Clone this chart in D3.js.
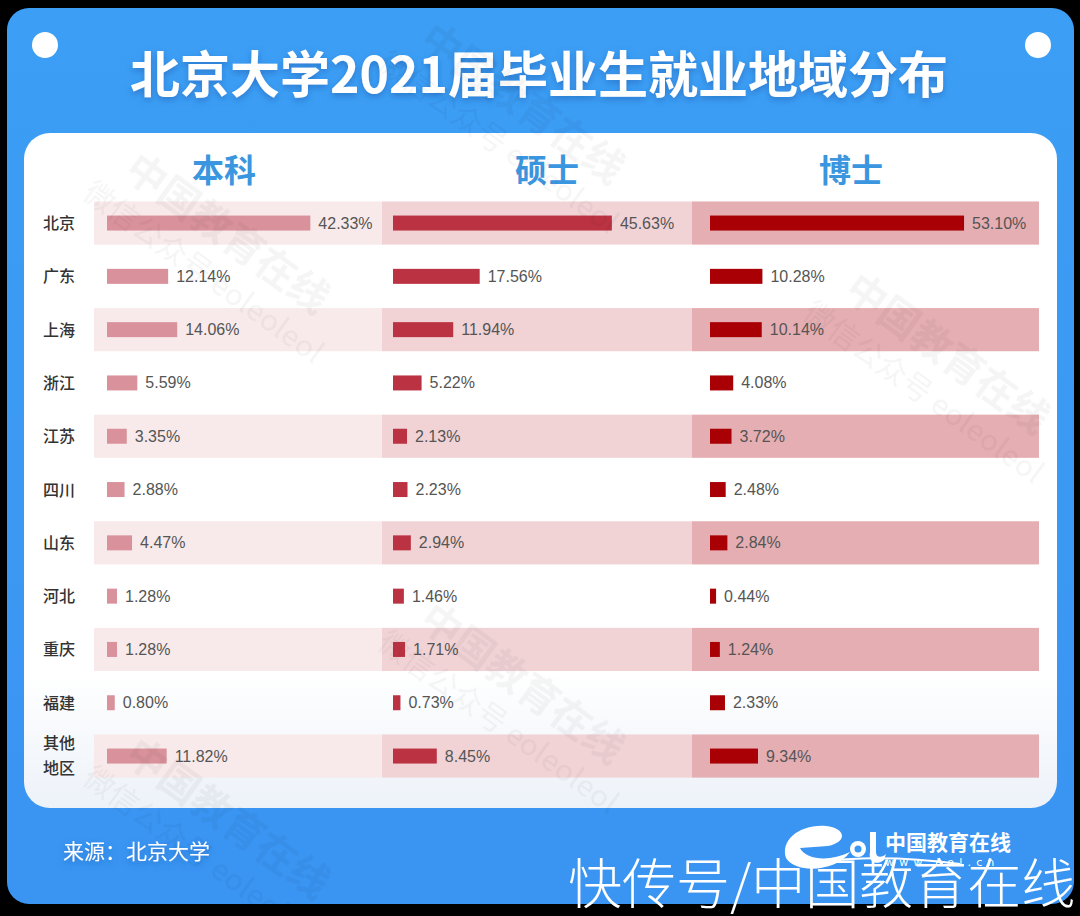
<!DOCTYPE html>
<html>
<head>
<meta charset="utf-8">
<script src="https://cdn.jsdelivr.net/npm/d3@7"></script>
<style>
  html, body { margin: 0; padding: 0; background: #000; }
  svg { display: block; }
</style>
</head>
<body>
<div id="chart"></div>
<script>
// data
const regions = ['北京', '广东', '上海', '浙江', '江苏', '四川', '山东', '河北', '重庆', '福建', '其他地区']
const degrees = ['本科', '硕士', '博士']
const undergrad = [42.33, 12.14, 14.06, 5.59, 3.35, 2.88, 4.47, 1.28, 1.28, 0.80, 11.82]
const master = [45.63, 17.56, 11.94, 5.22, 2.13, 2.23, 2.94, 1.46, 1.71, 0.73, 8.45]
const doctor = [53.10, 10.28, 10.14, 4.08, 3.72, 2.48, 2.84, 0.44, 1.24, 2.33, 9.34]
const series = [undergrad, master, doctor]

const w = 1080
const h = 916
const cjk = '"Noto Sans CJK SC", "Noto Sans", sans-serif'

// column layout (band edges, bar start, header centre) + colours
const cols = [
  { x0: 94, x1: 382, bar: 107, head: 224, band: '#f8eaea', fill: '#d9929b' },
  { x0: 382, x1: 692, bar: 393, head: 547, band: '#f1d3d6', fill: '#bb3343' },
  { x0: 692, x1: 1039, bar: 710, head: 851, band: '#e5aeb2', fill: '#a90005' }
]

const svg = d3.select('#chart').append('svg')
  .attr('width', w)
  .attr('height', h)

const defs = svg.append('defs')
const bg = defs.append('linearGradient').attr('id', 'bg').attr('x1', 0).attr('y1', 0).attr('x2', 0).attr('y2', 1)
bg.append('stop').attr('offset', '0%').attr('stop-color', '#3c9ef4')
bg.append('stop').attr('offset', '100%').attr('stop-color', '#3a94f2')
const pg = defs.append('linearGradient').attr('id', 'panel').attr('x1', 0).attr('y1', 0).attr('x2', 0).attr('y2', 1)
pg.append('stop').attr('offset', '0%').attr('stop-color', '#ffffff')
pg.append('stop').attr('offset', '80%').attr('stop-color', '#ffffff')
pg.append('stop').attr('offset', '100%').attr('stop-color', '#edf2f9')
const sh = defs.append('filter').attr('id', 'shadow').attr('x', '-10%').attr('y', '-30%').attr('width', '120%').attr('height', '160%')
sh.append('feDropShadow').attr('dx', 0).attr('dy', 3).attr('stdDeviation', 3)
  .attr('flood-color', '#1a5fb0').attr('flood-opacity', 0.55)

// black frame + blue card
svg.append('rect').attr('width', w).attr('height', h).attr('fill', '#000')
svg.append('rect')
  .attr('x', 7).attr('y', 8).attr('width', 1067).attr('height', 896)
  .attr('rx', 22).attr('fill', 'url(#bg)')

svg.selectAll('circle.dot')
  .data([45, 1038])
  .enter()
  .append('circle')
  .attr('class', 'dot')
  .attr('cx', d => d).attr('cy', 45).attr('r', 13)
  .attr('fill', '#fff')

svg.append('text')
  .attr('x', 539).attr('y', 93)
  .attr('text-anchor', 'middle')
  .style('font-family', cjk).style('font-weight', 'bold').style('font-size', '50px')
  .attr('fill', '#fff')
  .attr('filter', 'url(#shadow)')
  .text('北京大学2021届毕业生就业地域分布')

// white panel
svg.append('rect')
  .attr('x', 24).attr('y', 133).attr('width', 1033).attr('height', 675)
  .attr('rx', 26).attr('fill', 'url(#panel)')

const y = d3.scaleBand()
  .domain(regions)
  .range([196.4, 782.7])
  .paddingInner(0.19)
  .paddingOuter(0.095)

const x = d3.scaleLinear()
  .domain([0, 55])
  .range([4, 263])

// headers
svg.selectAll('text.head')
  .data(degrees)
  .enter()
  .append('text')
  .attr('class', 'head')
  .attr('x', (d, i) => cols[i].head)
  .attr('y', 182)
  .attr('text-anchor', 'middle')
  .style('font-family', cjk).style('font-weight', 'bold').style('font-size', '32px')
  .attr('fill', '#3b96e0')
  .text(d => d)

// striped row bands
const striped = regions.filter((d, i) => i % 2 === 0)
cols.forEach(c => {
  svg.append('g')
    .selectAll('rect')
    .data(striped)
    .enter()
    .append('rect')
    .attr('x', c.x0)
    .attr('y', d => y(d))
    .attr('width', c.x1 - c.x0)
    .attr('height', y.bandwidth())
    .attr('fill', c.band)
})

// row labels
const rowLab = svg.append('g')
  .style('font-family', cjk).style('font-size', '16px').style('font-weight', 500)
  .attr('fill', '#333')
regions.forEach(r => {
  const cy = y(r) + y.bandwidth() / 2
  const t = rowLab.append('text').attr('x', 59).attr('text-anchor', 'middle')
  if (r.length > 2) {
    t.append('tspan').attr('x', 59).attr('y', cy - 7).text(r.slice(0, 2))
    t.append('tspan').attr('x', 59).attr('y', cy + 18).text(r.slice(2))
  } else {
    t.attr('y', cy + 6).text(r)
  }
})

// bars + value labels
series.forEach((vals, ci) => {
  const c = cols[ci]
  const g = svg.append('g')
  g.selectAll('rect')
    .data(vals)
    .enter()
    .append('rect')
    .attr('x', c.bar)
    .attr('y', (d, i) => y(regions[i]) + y.bandwidth() / 2 - 7.5)
    .attr('width', d => x(d))
    .attr('height', 15)
    .attr('fill', c.fill)
  g.selectAll('text')
    .data(vals)
    .enter()
    .append('text')
    .attr('x', d => c.bar + x(d) + 8)
    .attr('y', (d, i) => y(regions[i]) + y.bandwidth() / 2 + 5.5)
    .style('font-family', '"Liberation Sans", Arial, sans-serif').style('font-size', '16px')
    .attr('fill', '#555')
    .text(d => d.toFixed(2) + '%')
})

// faint diagonal watermarks
const wm = svg.append('g').attr('fill', '#000').attr('opacity', 0.04)
  .style('font-family', cjk)
const marks = [[140, 150], [435, 20], [860, 270], [435, 600], [140, 735]]
marks.forEach(p => {
  const m = wm.append('g').attr('transform', `translate(${p[0]},${p[1]}) rotate(36)`)
  m.append('text').attr('x', 0).attr('y', 30).style('font-size', '40px').style('font-weight', 'bold').text('中国教育在线')
  m.append('text').attr('x', -20).attr('y', 72).style('font-size', '30px').text('微信公众号 eoleoleol')
})

// footer
svg.append('text')
  .attr('x', 63).attr('y', 859)
  .style('font-family', cjk).style('font-size', '21px')
  .attr('fill', '#fff')
  .attr('filter', 'url(#shadow)')
  .text('来源：北京大学')

// eol logo
const logo = svg.append('g').attr('fill', '#fff')
logo.append('path')
  .attr('d', 'M786,858 C780,840 800,824 826,826 C846,828 848,842 828,846 L800,848 C806,860 830,862 850,852 C836,872 796,874 786,858 Z')
logo.append('circle').attr('cx', 858).attr('cy', 849).attr('r', 8)
logo.append('circle').attr('cx', 858).attr('cy', 849).attr('r', 3.5).attr('fill', '#3a98f2')
logo.append('path').attr('d', 'M870,832 L876,832 L876,852 C876,858 882,858 886,854 L884,860 C876,866 868,862 870,852 Z')
logo.append('path')
  .attr('d', 'M800,866 C840,856 900,856 960,864').attr('fill', 'none').attr('stroke', '#fff').attr('stroke-width', 2)
logo.append('text')
  .attr('x', 885).attr('y', 850)
  .style('font-family', cjk).style('font-weight', 'bold').style('font-size', '21px')
  .text('中国教育在线')
logo.append('text')
  .attr('x', 885).attr('y', 866)
  .style('font-family', '"DejaVu Sans", sans-serif').style('font-size', '11px').style('letter-spacing', '5.2px')
  .text('www.eol.cn')

// site watermark over the bottom
svg.append('text')
  .attr('x', 568).attr('y', 904)
  .style('font-family', cjk).style('font-size', '54px').style('font-weight', 300)
  .attr('fill', '#fff')
  .text('快传号/中国教育在线')
</script>
</body>
</html>
